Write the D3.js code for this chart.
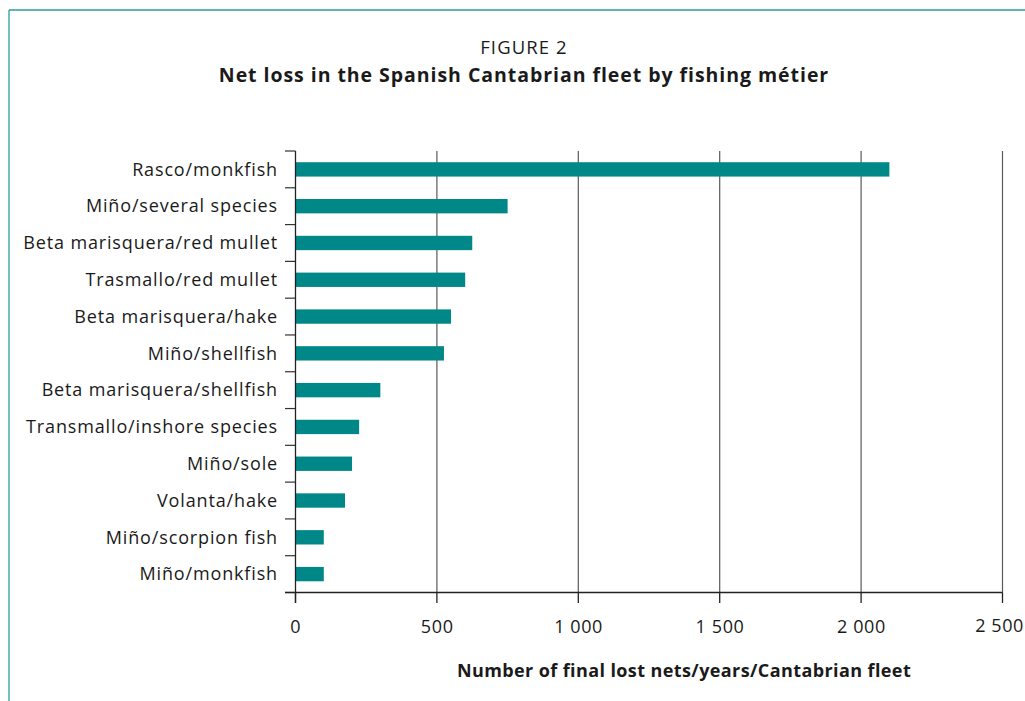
<!DOCTYPE html>
<html>
<head>
<meta charset="utf-8">
<script src="https://cdn.jsdelivr.net/npm/d3@7"></script>
<style>
  html, body { margin: 0; padding: 0; background: #fff; }
  svg { display: block; }
  text { font-family: "Open Sans", "Noto Sans", sans-serif; fill: #1a1a1a; }
</style>
</head>
<body>
<script>
const categories = [
  "Rasco/monkfish",
  "Miño/several species",
  "Beta marisquera/red mullet",
  "Trasmallo/red mullet",
  "Beta marisquera/hake",
  "Miño/shellfish",
  "Beta marisquera/shellfish",
  "Transmallo/inshore species",
  "Miño/sole",
  "Volanta/hake",
  "Miño/scorpion fish",
  "Miño/monkfish"
];
const values = [2100, 750, 625, 600, 550, 525, 300, 225, 200, 175, 100, 100];
const xTicks = [0, 500, 1000, 1500, 2000, 2500];
const xTickLabels = ["0", "500", "1 000", "1 500", "2 000", "2 500"];
const figureLabel = "FIGURE 2";
const title = "Net loss in the Spanish Cantabrian fleet by fishing métier";
const xTitle = "Number of final lost nets/years/Cantabrian fleet";

const W = 1025, H = 701;
const svg = d3.select("body").append("svg").attr("width", W).attr("height", H);

// frame
const frameColor = "#2a9d9b";
svg.append("line").attr("x1", 9).attr("x2", 9).attr("y1", 10).attr("y2", H).attr("stroke", frameColor).attr("stroke-width", 1.3);
svg.append("line").attr("x1", 9).attr("x2", W).attr("y1", 10).attr("y2", 10).attr("stroke", frameColor).attr("stroke-width", 1.3);

// titles
svg.append("text").attr("x", 524).attr("y", 54).attr("text-anchor", "middle")
  .style("font-size", "18.5px").style("letter-spacing", "1.1px").text(figureLabel);
svg.append("text").attr("x", 524).attr("y", 82).attr("text-anchor", "middle")
  .style("font-size", "19.5px").style("font-weight", "bold").style("letter-spacing", "0.95px").text(title);

const x = d3.scaleLinear().domain([0, 2500]).range([295.5, 1002.5]);
const y = d3.scaleBand().domain(categories).range([151, 592.5]).paddingInner(0.61).paddingOuter(0.305);
const yb = d3.scaleBand().domain(categories).range([151, 592.5]);

const g = svg.append("g");

// gridlines
g.selectAll(".grid").data(xTicks.slice(1)).join("line")
  .attr("x1", d => x(d)).attr("x2", d => x(d))
  .attr("y1", 151).attr("y2", 592.5)
  .attr("stroke", "#5a5a5a").attr("stroke-width", 1.2);

// bars
g.selectAll(".bar").data(values).join("rect")
  .attr("x", x(0))
  .attr("y", (d, i) => y(categories[i]))
  .attr("width", d => x(d) - x(0))
  .attr("height", y.bandwidth())
  .attr("fill", "#008787");

// category ticks (boundaries)
const bounds = categories.map(c => yb(c)).concat([yb.range()[1]]);
g.selectAll(".ctick").data(bounds).join("line")
  .attr("x1", 285).attr("x2", x(0))
  .attr("y1", d => d).attr("y2", d => d)
  .attr("stroke", "#333").attr("stroke-width", 1.2);

// y axis line
g.append("line").attr("x1", x(0)).attr("x2", x(0)).attr("y1", 151).attr("y2", 603)
  .attr("stroke", "#222").attr("stroke-width", 1.3);

// x axis line
g.append("line").attr("x1", 285).attr("x2", x(2500)).attr("y1", 592.5).attr("y2", 592.5)
  .attr("stroke", "#222").attr("stroke-width", 1.3);

// x ticks
g.selectAll(".xtick").data(xTicks).join("line")
  .attr("x1", d => x(d)).attr("x2", d => x(d))
  .attr("y1", 592.5).attr("y2", 603)
  .attr("stroke", "#222").attr("stroke-width", 1.3);

// x tick labels (last one kept inside the page edge, as in the reference)
g.selectAll(".xlab").data(xTicks).join("text")
  .attr("x", (d, i) => i === xTicks.length - 1 ? W - 1 : x(d) + 0.3)
  .attr("y", (d, i) => i === xTicks.length - 1 ? 632 : 633)
  .attr("text-anchor", (d, i) => i === xTicks.length - 1 ? "end" : "middle")
  .style("font-size", "18px").style("letter-spacing", "0.6px")
  .text((d, i) => xTickLabels[i]);

// category labels
g.selectAll(".ylab").data(categories).join("text")
  .attr("x", 278)
  .attr("y", d => yb(d) + yb.bandwidth() / 2 + 6.3)
  .attr("text-anchor", "end")
  .style("font-size", "18px").style("letter-spacing", "0.85px")
  .text(d => d);

// x title
svg.append("text").attr("x", 684).attr("y", 677).attr("text-anchor", "middle")
  .style("font-size", "18px").style("font-weight", "bold").style("letter-spacing", "0.4px").text(xTitle);
</script>
</body>
</html>
